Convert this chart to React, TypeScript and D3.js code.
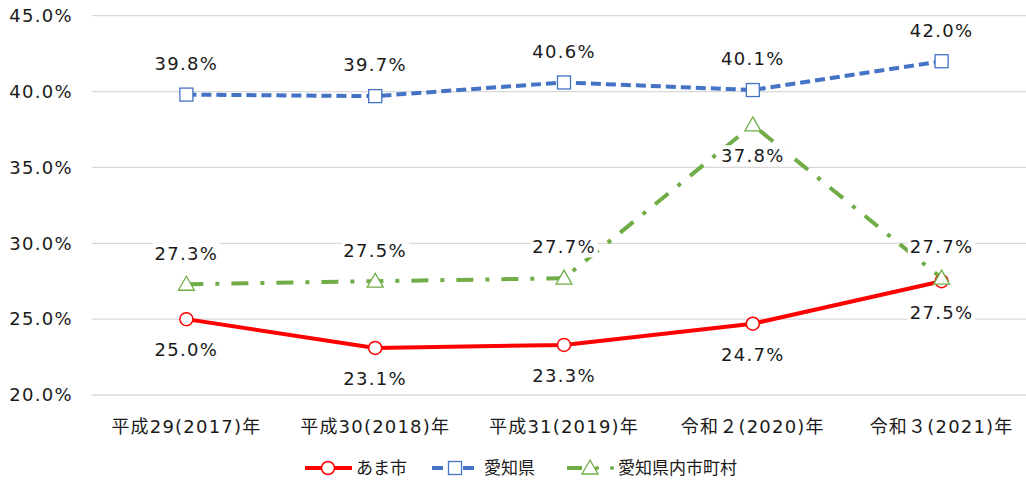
import React, { useEffect, useRef } from "react"
import * as d3 from "d3"

// 年度
const years = ["平成29(2017)年", "平成30(2018)年", "平成31(2019)年", "令和２(2020)年", "令和３(2021)年"]
// 系列の値 (%)
const amaValues = [25.0, 23.1, 23.3, 24.7, 27.5]
const aichiValues = [39.8, 39.7, 40.6, 40.1, 42.0]
const townValues = [27.3, 27.5, 27.7, 37.8, 27.7]
const seriesNames = ["あま市", "愛知県", "愛知県内市町村"]
const yTicks = [20, 25, 30, 35, 40, 45]

const W = 1026
const H = 483
const FONT = "'DejaVu Sans', 'Noto Sans CJK JP', sans-serif"

export default function App() {
  const ref = useRef<SVGSVGElement>(null)

  useEffect(() => {
    const svg = d3.select(ref.current)
    svg.selectAll("*").remove()

    const x = d3.scaleBand().domain(years).range([92, 1036])
    const y = d3.scaleLinear().domain([20, 45]).range([395, 15.7])
    const cx = (d: string) => (x(d) as number) + x.bandwidth() / 2

    // グリッド線
    svg.append("g").selectAll("line").data(yTicks).join("line")
      .attr("x1", 92).attr("x2", 1030)
      .attr("y1", d => y(d)).attr("y2", d => y(d))
      .attr("stroke", "#d9d9d9").attr("stroke-width", 1.3)

    // y軸ラベル
    svg.append("g").selectAll("text").data(yTicks).join("text")
      .attr("x", 73).attr("y", d => y(d)).attr("dy", "0.35em")
      .attr("text-anchor", "end")
      .attr("font-family", FONT).attr("font-size", 18).attr("letter-spacing", 1.3).attr("fill", "#1a1a1a")
      .text(d => d.toFixed(1) + "%")

    // x軸ラベル
    svg.append("g").selectAll("text").data(years).join("text")
      .attr("x", d => cx(d)).attr("y", 427).attr("dy", "0.35em")
      .attr("text-anchor", "middle")
      .attr("font-family", FONT).attr("font-size", 18).attr("letter-spacing", 1.2).attr("fill", "#1a1a1a")
      .text(d => d)

    const series = [
      { name: seriesNames[0], values: amaValues, color: "#ff0000", dash: null, marker: "circle", pos: years.map(() => 1) },
      { name: seriesNames[1], values: aichiValues, color: "#4472c4", dash: "10,5", marker: "square", pos: years.map(() => -1) },
      { name: seriesNames[2], values: townValues, color: "#70ad47", dash: "17,12,4,12", marker: "triangle", pos: [-1, -1, -1, 1, -1] },
    ]

    const line = d3.line<number>()
      .x((_, i) => cx(years[i]))
      .y(d => y(d))

    const drawMarker = (g: any, kind: string, color: string, px: number, py: number) => {
      if (kind === "circle") {
        g.append("circle").attr("cx", px).attr("cy", py).attr("r", 6.5)
          .attr("fill", "white").attr("stroke", color).attr("stroke-width", 1.5)
      } else if (kind === "square") {
        g.append("rect").attr("x", px - 6.5).attr("y", py - 6.5).attr("width", 13).attr("height", 13)
          .attr("fill", "white").attr("stroke", color).attr("stroke-width", 1.3)
      } else {
        g.append("path")
          .attr("d", `M${px},${py - 8}L${px + 8},${py + 6}L${px - 8},${py + 6}Z`)
          .attr("fill", "white").attr("stroke", color).attr("stroke-width", 1.3)
      }
    }

    const lines = svg.append("g")
    series.forEach(s => {
      lines.append("path")
        .attr("d", line(s.values))
        .attr("fill", "none").attr("stroke", s.color).attr("stroke-width", 4)
        .attr("stroke-dasharray", s.dash)
    })
    series.forEach(s => {
      s.values.forEach((v, i) => drawMarker(lines, s.marker, s.color, cx(years[i]), y(v)))
    })

    // データラベル（白背景）
    const labels = svg.append("g")
    series.forEach(s => {
      s.values.forEach((v, i) => {
        const lg = labels.append("g")
        const t = lg.append("text")
          .attr("x", cx(years[i])).attr("y", y(v) + s.pos[i] * 31).attr("dy", "0.35em")
          .attr("text-anchor", "middle")
          .attr("font-family", FONT).attr("font-size", 18).attr("letter-spacing", 1.3).attr("fill", "#1a1a1a")
          .text(v.toFixed(1) + "%")
        const b = (t.node() as SVGTextElement).getBBox()
        lg.insert("rect", "text")
          .attr("x", b.x - 2).attr("y", b.y).attr("width", b.width + 4).attr("height", b.height)
          .attr("fill", "white")
      })
    })

    // 凡例
    const legend = svg.append("g")
    const ly = 468
    // あま市
    legend.append("line").attr("x1", 305).attr("x2", 352).attr("y1", ly).attr("y2", ly)
      .attr("stroke", "#ff0000").attr("stroke-width", 4)
    drawMarker(legend, "circle", "#ff0000", 328, ly)
    // 愛知県
    legend.append("line").attr("x1", 432).attr("x2", 443).attr("y1", ly).attr("y2", ly)
      .attr("stroke", "#4472c4").attr("stroke-width", 4)
    legend.append("line").attr("x1", 463).attr("x2", 474).attr("y1", ly).attr("y2", ly)
      .attr("stroke", "#4472c4").attr("stroke-width", 4)
    drawMarker(legend, "square", "#4472c4", 455, ly)
    // 愛知県内市町村
    legend.append("line").attr("x1", 567).attr("x2", 582).attr("y1", ly).attr("y2", ly)
      .attr("stroke", "#70ad47").attr("stroke-width", 4)
    legend.append("circle").attr("cx", 597).attr("cy", ly).attr("r", 2).attr("fill", "#70ad47")
    legend.append("circle").attr("cx", 612).attr("cy", ly).attr("r", 2).attr("fill", "#70ad47")
    drawMarker(legend, "triangle", "#70ad47", 590, ly)

    const lx = [356, 484, 618]
    legend.selectAll("text.lg").data(seriesNames).join("text")
      .attr("class", "lg")
      .attr("x", (_, i) => lx[i]).attr("y", ly).attr("dy", "0.35em")
      .attr("font-family", FONT).attr("font-size", 17).attr("fill", "#1a1a1a")
      .text(d => d)
  }, [])

  return (
    <svg ref={ref} width={W} height={H}
      style={{ position: "absolute", left: 0, top: 0, background: "white" }} />
  )
}
